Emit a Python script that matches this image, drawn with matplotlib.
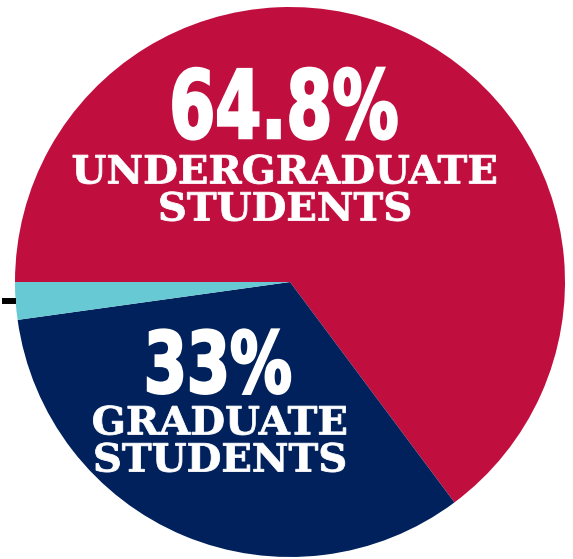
import numpy as np
import matplotlib
matplotlib.use("Agg")
import matplotlib.pyplot as plt
from matplotlib.patheffects import AbstractPathEffect
from matplotlib.transforms import Affine2D

# student enrolment shares
labels = ["UNDERGRADUATE\nSTUDENTS", "GRADUATE\nSTUDENTS", "OTHER"]
shares = [64.8, 33.0, 2.2]
pct_text = ["64.8%", "33%", ""]
colors = ["#C00F3F", "#00215B", "#66C9D3"]

W, H = 573, 559
cx, cy, R = 290, 282, 275  # pie centre / radius in pixels


class Squeeze(AbstractPathEffect):
    """scale text glyphs horizontally about the text anchor (fake condensed font)"""
    def __init__(self, text, sx, stroke=0.0):
        super().__init__()
        self.text, self.sx, self.stroke = text, sx, stroke

    def draw_path(self, renderer, gc, tpath, affine, rgbFace=None):
        x0 = self.text.get_transform().transform(self.text.get_position())[0]
        aff = affine + Affine2D().translate(-x0, 0).scale(self.sx, 1).translate(x0, 0)
        gc0 = renderer.new_gc()
        gc0.copy_properties(gc)
        if self.stroke:
            gc0.set_linewidth(self.stroke)
            gc0.set_foreground(rgbFace)
            gc0.set_joinstyle("miter")
        renderer.draw_path(gc0, tpath, aff, rgbFace)
        gc0.restore()


fig = plt.figure(figsize=(W / 100, H / 100), dpi=100)
ax = fig.add_axes([0, 0, 1, 1])

wedges, _ = ax.pie(shares, colors=colors, startangle=180, counterclock=False,
                   radius=1, wedgeprops=dict(linewidth=0))

ax.set_xlim(-cx / R, (W - cx) / R)
ax.set_ylim(-(H - cy) / R, cy / R)
ax.set_aspect("auto")
ax.axis("off")


def px(x, y):
    return (x - cx) / R, (cy - y) / R


def label(x, y, s, size, sx, stroke=0.0, **kw):
    t = ax.text(*px(x, y), s, fontsize=size, color="white", fontweight="bold",
                ha="center", va="center", **kw)
    t.set_path_effects([Squeeze(t, sx, stroke)])
    return t


# undergraduate
label(284, 112, pct_text[0], 68, 0.70, stroke=1.8, family="DejaVu Sans")
label(285, 191, labels[0], 28, 1.03, stroke=0.6, family="DejaVu Serif", linespacing=0.97)
# graduate
label(218, 369, pct_text[1], 61, 0.73, stroke=1.8, family="DejaVu Sans")
label(220, 442, labels[1], 28, 1.03, stroke=0.6, family="DejaVu Serif", linespacing=0.97)

# short leader tick for the small slice
w = wedges[2]
mid = np.deg2rad((w.theta1 + w.theta2) / 2)
ax.plot([1.0 * np.cos(mid), 1.05 * np.cos(mid)], [np.sin(mid), np.sin(mid)],
        color="black", lw=4.3, solid_capstyle="butt", clip_on=False)

fig.savefig("out.png", dpi=100)
